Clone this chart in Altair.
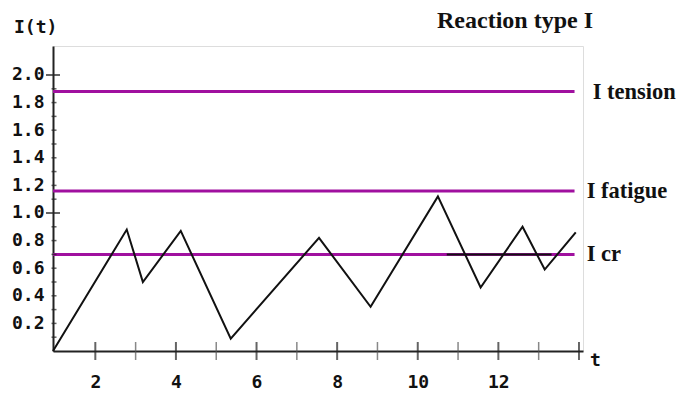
import altair as alt
import pandas as pd

# ---- data ----
t_vals = [0.95, 2.78, 3.18, 4.12, 5.36, 7.55, 8.83, 10.50, 11.56, 12.60, 13.15, 13.92]
i_vals = [0.0, 0.88, 0.50, 0.87, 0.09, 0.82, 0.32, 1.12, 0.46, 0.90, 0.59, 0.86]

level_names = ["I tension", "I fatigue", "I cr"]
level_vals = [1.88, 1.16, 0.70]
level_start = [0.95, 0.95, 0.95]
level_end = [13.89, 13.89, 13.89]
level_label_t = [14.34, 14.19, 14.19]

cr_black_t = [10.72, 13.32]
cr_black_v = [0.70, 0.70]

y_label_vals = [0.2, 0.4, 0.6, 0.8, 1.0, 1.2, 1.4, 1.6, 1.8, 2.0]
y_minor_ticks = [0.1, 0.2, 0.3, 0.4, 0.5, 0.6, 0.7, 0.8, 0.9, 1.1, 1.2, 1.3,
                 1.4, 1.5, 1.6, 1.7, 1.8, 1.9]
y_major_ticks = [1.0, 2.0]
x_label_vals = [2, 4, 6, 8, 10, 12]
x_major_ticks = [2, 4, 6, 8, 10, 12, 14]
x_minor_ticks = [3, 5, 7, 9, 11, 13]

title_text = "Reaction type I"
y_title = "I(t)"
x_title = "t"

MAGENTA = "#a0109f"
W, H = 530, 305
MONO = "DejaVu Sans Mono"
SERIF = "Liberation Serif"

xs = alt.Scale(domain=[0.95, 14.1], nice=False, zero=False)
ys = alt.Scale(domain=[0, 2.21], nice=False, zero=False)

series = pd.DataFrame({"t": t_vals, "I": i_vals})
levels = pd.DataFrame({"name": level_names, "v": level_vals, "t0": level_start,
                       "t1": level_end, "tl": level_label_t})
cr_black = pd.DataFrame({"t": cr_black_t, "v": cr_black_v})

xaxis = alt.Axis(values=x_label_vals, ticks=False, grid=False, title=None,
                 domainColor="#222222", domainWidth=2, labelFont=MONO,
                 labelFontSize=18, labelFontWeight="bold", labelColor="#111111",
                 labelPadding=22, labelOverlap=False, labelFlush=False)
yaxis = alt.Axis(values=y_label_vals, format=".1f", ticks=False, grid=False,
                 title=None, domainColor="#222222", domainWidth=2,
                 labelFont=MONO, labelFontSize=18, labelFontWeight="bold",
                 labelColor="#111111", labelPadding=9, labelOverlap=False,
                 labelFlush=False)


def X(f):
    return alt.X(f, scale=xs, axis=xaxis, title=None)


def Y(f):
    return alt.Y(f, scale=ys, axis=yaxis, title=None)


levels_rule = alt.Chart(levels).mark_rule(color=MAGENTA, strokeWidth=3).encode(
    x=X("t0:Q"), x2="t1:Q", y=Y("v:Q"),
)

cr_black_line = alt.Chart(cr_black).mark_line(color="#111111", strokeWidth=2).encode(
    x=X("t:Q"), y=Y("v:Q"),
)

line = alt.Chart(series).mark_line(color="#111111", strokeWidth=2).encode(
    x=X("t:Q"), y=Y("I:Q"),
)

level_text = alt.Chart(levels).mark_text(
    align="left", baseline="middle", font=SERIF, fontSize=22.5,
    fontWeight="bold", color="#111111"
).encode(x=X("tl:Q"), y=Y("v:Q"), text="name:N")

ymin = alt.Chart(pd.DataFrame({"v": y_minor_ticks})).mark_tick(
    orient="horizontal", color="#222222", size=5, thickness=1.5
).encode(x=alt.value(1), y=Y("v:Q"))

ymaj = alt.Chart(pd.DataFrame({"v": y_major_ticks})).mark_tick(
    orient="horizontal", color="#222222", size=14, thickness=2
).encode(x=alt.value(0), y=Y("v:Q"))

xmaj = alt.Chart(pd.DataFrame({"t": x_major_ticks})).mark_tick(
    orient="vertical", color="#222222", size=18, thickness=2
).encode(x=X("t:Q"), y=alt.value(H))

xmin = alt.Chart(pd.DataFrame({"t": x_minor_ticks})).mark_tick(
    orient="vertical", color="#555555", size=18, thickness=1.5
).encode(x=X("t:Q"), y=alt.value(H))

title = alt.Chart(pd.DataFrame({"s": [title_text]})).mark_text(
    align="left", baseline="middle", font=SERIF, fontSize=24,
    fontWeight="bold", color="#111111"
).encode(x=alt.value(384), y=alt.value(-25), text="s:N")

ytitle = alt.Chart(pd.DataFrame({"s": [y_title]})).mark_text(
    align="left", baseline="middle", font=MONO, fontSize=18,
    fontWeight="bold", color="#111111"
).encode(x=alt.value(-39), y=alt.value(-18), text="s:N")

xtitle = alt.Chart(pd.DataFrame({"s": [x_title]})).mark_text(
    align="left", baseline="middle", font=MONO, fontSize=18,
    fontWeight="bold", color="#111111"
).encode(x=alt.value(537), y=alt.value(10 + H), text="s:N")

chart = alt.layer(
    levels_rule, cr_black_line, line, ymin, ymaj, xmaj, xmin,
    level_text, title, ytitle, xtitle
).properties(
    width=W, height=H,
    autosize=alt.AutoSizeParams(type="none"),
    padding={"left": 45, "top": 38, "right": 95, "bottom": 43},
).configure_view(stroke=None).configure(background="white")

chart.save("out.html", embed_options={"renderer": "svg", "actions": False})
